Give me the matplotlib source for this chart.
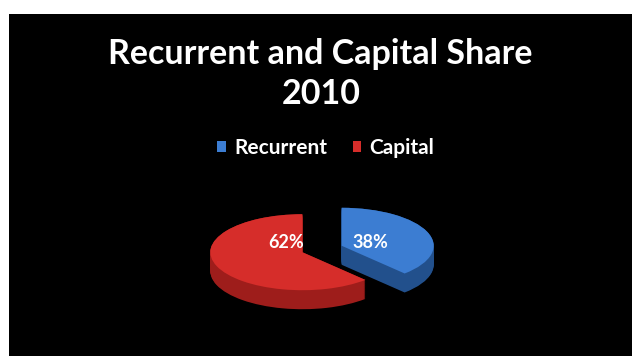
import matplotlib
matplotlib.use("Agg")
import matplotlib.pyplot as plt
import numpy as np
from matplotlib.patches import Rectangle

# Budget share data
categories = ["Recurrent", "Capital"]
shares = [38, 62]
top_colors = ["#3c7dd2", "#d62d2a"]
side_colors = ["#22508c", "#9e1d1b"]

W, H = 632, 356
fig = plt.figure(figsize=(W / 100, H / 100), dpi=100)
fig.patch.set_facecolor("white")

# black chart area
fig.add_artist(Rectangle((9 / W, 0), (W - 9) / W, (H - 14) / H,
                         transform=fig.transFigure, facecolor="black",
                         edgecolor="none", zorder=0))

# pie geometry in pixels: centre, horizontal and vertical radius, depth
cx, cy = 322, 249
rx, ry = 92, 38
depth = 19
left, right = cx - 140, cx + 140
top, bottom = cy - 60, cy + 80

ax = fig.add_axes([left / W, (H - bottom) / H, (right - left) / W, (bottom - top) / H])
explode = [0.23, 0.23]

# extruded side walls, stacked from the bottom up
for off in np.linspace(-depth / ry, 0, 28):
    ax.pie(shares, explode=explode, startangle=90, counterclock=False,
           colors=side_colors, center=(0, off),
           wedgeprops=dict(linewidth=0))

# top face
wedges, _ = ax.pie(shares, explode=explode, startangle=90, counterclock=False,
                   colors=top_colors, center=(0, 0),
                   wedgeprops=dict(linewidth=0))

ax.set_aspect("auto")
ax.set_xlim(-(cx - left) / rx, (right - cx) / rx)
ax.set_ylim(-(bottom - cy) / ry, (cy - top) / ry)
ax.axis("off")

# percentage labels
label_pos = [(0.53, 0.17), (-0.39, 0.17)]
for v, (lx, ly) in zip(shares, label_pos):
    ax.text(lx, ly, f"{v}%", color="white", fontsize=13, fontweight="bold",
            family="Lato", ha="center", va="center")

# title
fig.text(320 / W, 1 - 54 / H, "Recurrent and Capital Share", color="white",
         fontsize=24.5, fontweight="bold", family="Lato", ha="center", va="center")
fig.text(321 / W, 1 - 94 / H, "2010", color="white",
         fontsize=24.5, fontweight="bold", family="Lato", ha="center", va="center")

# legend
leg = fig.legend(wedges, categories, loc="center", bbox_to_anchor=(326 / W, 1 - 148 / H),
                 ncol=2, frameon=False, handlelength=0.42, handleheight=0.42,
                 handletextpad=0.4, columnspacing=1.2,
                 prop=dict(family="Lato", weight="bold", size=15))
for t in leg.get_texts():
    t.set_color("white")

fig.savefig("out.png", dpi=100, facecolor=fig.get_facecolor())
